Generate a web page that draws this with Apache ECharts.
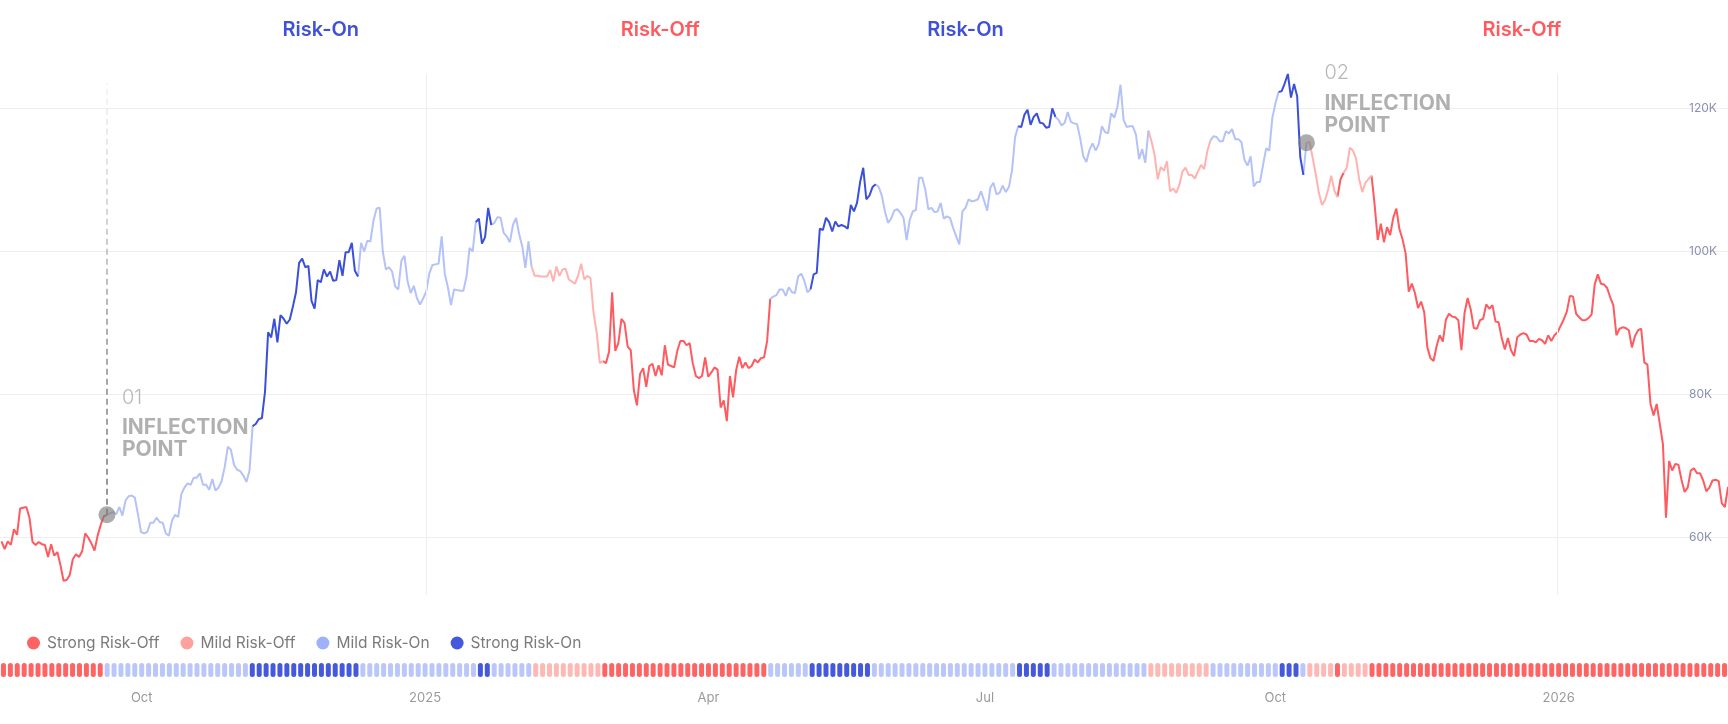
<!DOCTYPE html>
<html>
<head>
<meta charset="utf-8">
<script src="https://cdn.jsdelivr.net/npm/echarts@6.0.0/dist/echarts.min.js"></script>
<style>
html,body{margin:0;padding:0;background:#ffffff;}
#chart{width:1728px;height:724px;}
</style>
</head>
<body>
<div id="chart"></div>
<script>
// ---------- DATA (daily close, thousands USD) ----------
const startDate = '2024-08-17';
const aug2024 = [59.5, 58.4, 59.5, 59.0, 61.2, 60.4, 64.1, 64.2, 64.3, 62.8, 59.4, 59.0, 59.4, 59.1, 59.0];
const sep2024 = [57.3, 59.1, 57.5, 58.0, 56.2, 54.0, 54.1, 54.8, 57.0, 57.7, 57.3, 58.1, 60.6, 60.0, 59.2, 58.2, 60.3, 61.8, 63.0, 63.2, 63.4, 63.6, 63.3, 64.3, 63.1, 65.2, 65.8, 65.9, 65.6, 63.3];
const oct2024 = [60.8, 60.6, 60.8, 62.1, 62.1, 62.8, 62.2, 62.1, 60.6, 60.3, 62.4, 63.2, 62.9, 66.1, 67.0, 67.6, 67.4, 68.4, 68.4, 69.0, 67.4, 67.4, 66.7, 68.2, 66.6, 67.0, 67.9, 69.9, 72.7, 72.3, 70.2];
const nov2024 = [69.5, 69.3, 68.7, 67.8, 69.4, 75.6, 75.9, 76.6, 76.7, 80.4, 88.7, 88.0, 90.6, 87.3, 91.1, 90.6, 89.9, 90.5, 92.3, 94.3, 98.4, 99.0, 97.8, 98.0, 93.1, 92.0, 96.0, 95.7, 97.5, 96.5];
const dec2024 = [97.2, 95.9, 96.0, 98.8, 96.6, 99.9, 99.9, 101.2, 97.3, 96.5, 101.2, 100.0, 101.5, 101.4, 104.3, 106.0, 106.1, 100.0, 97.5, 97.8, 97.2, 95.1, 94.7, 98.7, 99.4, 95.8, 94.2, 95.2, 93.5, 92.6, 93.4];
const jan2025 = [94.4, 96.9, 98.1, 98.2, 98.3, 102.1, 96.9, 95.0, 92.5, 94.7, 94.6, 94.5, 94.5, 96.5, 100.5, 100.0, 104.1, 104.6, 101.1, 102.0, 106.1, 103.7, 104.0, 104.8, 104.7, 102.6, 102.1, 101.3, 103.7, 104.7, 102.4];
const feb2025 = [100.7, 97.7, 101.4, 97.9, 96.6, 96.6, 96.5, 96.5, 96.5, 97.4, 95.8, 97.9, 96.6, 97.5, 97.6, 96.1, 95.8, 95.5, 96.6, 98.3, 96.1, 96.6, 96.3, 91.4, 88.7, 84.4, 84.7, 84.4];
const mar2025 = [86.0, 94.3, 86.1, 87.2, 90.6, 90.0, 86.7, 86.2, 80.6, 78.5, 82.9, 83.7, 81.1, 84.0, 84.3, 82.6, 84.1, 82.7, 86.9, 84.2, 84.0, 83.8, 86.1, 87.5, 87.5, 86.9, 87.2, 84.4, 82.6, 82.3, 82.6];
const apr2025 = [85.2, 82.5, 83.1, 83.8, 83.5, 78.2, 79.2, 76.3, 82.6, 79.6, 83.4, 85.3, 83.7, 84.5, 83.7, 84.0, 84.9, 84.5, 85.1, 85.2, 87.5, 93.4, 93.7, 93.9, 94.7, 94.7, 93.8, 95.0, 94.3, 94.2];
const may2025 = [96.5, 96.9, 95.9, 94.3, 94.7, 96.8, 97.0, 103.2, 103.0, 104.7, 104.1, 102.8, 104.2, 103.5, 103.7, 103.5, 103.2, 106.5, 105.6, 106.8, 109.7, 111.7, 107.3, 107.8, 109.0, 109.4, 109.0, 107.8, 105.6, 104.0, 104.6];
const jun2025 = [105.7, 105.9, 105.4, 104.7, 101.6, 104.4, 105.6, 105.8, 110.3, 110.3, 108.7, 105.9, 106.1, 105.5, 105.6, 106.8, 104.6, 104.9, 104.7, 103.3, 102.1, 101.0, 105.6, 106.1, 107.3, 107.0, 107.1, 107.3, 108.4, 107.1];
const jul2025 = [105.7, 108.9, 109.6, 108.0, 108.2, 109.2, 108.3, 109.0, 111.3, 116.0, 117.5, 117.4, 119.1, 119.8, 117.7, 118.8, 119.3, 118.0, 117.9, 117.3, 117.4, 120.0, 118.8, 118.4, 117.6, 118.0, 119.5, 118.1, 117.9, 117.8, 115.8];
const aug2025 = [113.3, 112.5, 114.2, 115.1, 114.1, 115.0, 117.5, 116.7, 116.5, 119.3, 118.7, 120.2, 123.3, 118.4, 117.4, 117.5, 117.5, 116.3, 112.9, 114.3, 112.4, 116.9, 115.4, 113.5, 110.1, 111.8, 111.3, 112.6, 108.4, 108.8, 108.2];
const sep2025 = [109.3, 111.2, 111.7, 110.7, 110.7, 110.2, 111.2, 112.1, 111.5, 114.0, 115.5, 116.1, 116.0, 115.4, 115.4, 116.8, 116.5, 117.1, 115.7, 115.7, 115.3, 112.8, 112.0, 113.3, 109.1, 109.7, 109.7, 112.1, 114.4, 114.1];
const oct2025 = [118.7, 120.7, 122.3, 122.4, 123.5, 124.8, 121.5, 123.4, 121.7, 113.2, 110.7, 115.2, 115.3, 113.1, 110.8, 108.2, 106.5, 107.2, 108.7, 110.6, 108.5, 107.6, 110.1, 111.0, 111.7, 114.5, 114.1, 113.0, 110.1, 108.3, 109.6];
const nov2025 = [110.1, 110.6, 106.5, 101.6, 103.9, 101.3, 103.4, 102.3, 104.7, 106.0, 103.1, 101.7, 99.7, 94.4, 95.5, 94.2, 92.1, 93.0, 91.5, 86.6, 85.1, 84.7, 86.8, 88.3, 87.4, 90.5, 91.3, 90.9, 90.8, 90.4];
const dec2025 = [86.2, 91.4, 93.5, 91.9, 89.3, 89.2, 90.4, 90.6, 92.6, 92.0, 92.5, 90.2, 90.1, 87.9, 86.3, 87.9, 86.2, 85.4, 88.0, 88.4, 88.6, 88.4, 87.5, 87.5, 87.3, 87.8, 87.6, 87.1, 88.3, 87.5, 88.3];
const jan2026 = [88.7, 89.6, 90.5, 91.6, 93.8, 93.7, 91.3, 90.8, 90.4, 90.4, 90.7, 91.2, 95.4, 96.8, 95.5, 95.4, 94.9, 93.6, 92.5, 88.3, 89.2, 89.4, 89.3, 89.0, 86.6, 88.2, 89.0, 89.2, 84.5, 84.2, 78.7];
const feb2026 = [77.1, 78.7, 75.9, 73.1, 62.8, 70.7, 69.4, 70.3, 70.2, 68.1, 66.4, 67.0, 69.4, 69.7, 69.0, 69.0, 68.0, 66.5, 67.0, 68.0, 68.1, 67.9, 64.8, 64.3, 67.1];

// regimes: 0 Strong Risk-Off, 1 Mild Risk-Off, 2 Mild Risk-On, 3 Strong Risk-On
const regimeNames = ['Strong Risk-Off', 'Mild Risk-Off', 'Mild Risk-On', 'Strong Risk-On'];
const regimeChanges = [
  ['2024-08-17', 0], ['2024-09-20', 2], ['2024-11-06', 3], ['2024-12-10', 2],
  ['2025-01-17', 3], ['2025-01-22', 2], ['2025-02-04', 1], ['2025-02-27', 0],
  ['2025-04-22', 2], ['2025-05-05', 3], ['2025-05-26', 2], ['2025-07-11', 3],
  ['2025-07-23', 2], ['2025-08-22', 1], ['2025-09-11', 2], ['2025-10-03', 3],
  ['2025-10-11', 2], ['2025-10-12', 1], ['2025-10-22', 0], ['2025-10-24', 1],
  ['2025-11-02', 0]
];
const macroPeriods = [
  ['2024-09-20', '2025-02-05', 'Risk-On'],
  ['2025-02-05', '2025-04-27', 'Risk-Off'],
  ['2025-04-27', '2025-08-21', 'Risk-On'],
  ['2025-10-15', '2026-02-25', 'Risk-Off']
];
const inflections = [['2024-09-20', '01'], ['2025-10-12', '02']];
const yearLines = ['2025-01-01', '2026-01-01'];
const tickDates = ['2024-10-01', '2025-01-01', '2025-04-01', '2025-07-01', '2025-10-01', '2026-01-01'];
const tickLabels = ['Oct', '2025', 'Apr', 'Jul', 'Oct', '2026'];

// ---------- STYLE ----------
const lineColors = ['#ff5a5f', '#ffb3af', '#b4c2f8', '#3b4fd8'];
const legendColors = ['#ff6262', '#ffa19d', '#9db2fb', '#4558db'];
const stripColors = ['#ff6464', '#ffb9b5', '#bac7f8', '#4559dc'];
const titleColors = { 'Risk-On': '#3f51d6', 'Risk-Off': '#ff5a5f' };
const FONT = 'Inter';
const stripCount = 250;

// ---------- BUILD ----------
const DAY = 86400000;
const t0 = Date.parse(startDate + 'T00:00:00Z');
const prices = [].concat(aug2024, sep2024, oct2024, nov2024, dec2024, jan2025, feb2025, mar2025, apr2025,
  may2025, jun2025, jul2025, aug2025, sep2025, oct2025, nov2025, dec2025, jan2026, feb2026);
const N = prices.length;
const tsOf = d => t0 + d * DAY;
const dayOf = s => Math.round((Date.parse(s + 'T00:00:00Z') - t0) / DAY);

const regime = new Array(N);
regimeChanges.forEach((c, k) => {
  const s = dayOf(c[0]);
  const e = k + 1 < regimeChanges.length ? dayOf(regimeChanges[k + 1][0]) : N;
  for (let d = s; d < e; d++) regime[d] = c[1];
});

const regimeSeries = regimeNames.map((name, r) => ({
  name: name,
  type: 'line',
  xAxisIndex: 0, yAxisIndex: 0,
  showSymbol: false,
  symbol: 'none',
  connectNulls: false,
  z: 3,
  emphasis: { disabled: true },
  itemStyle: { color: legendColors[r] },
  lineStyle: { color: lineColors[r], width: 2 },
  data: prices.map((p, d) => [tsOf(d), (regime[d] === r || (d > 0 && regime[d - 1] === r)) ? p : null])
}));

// strip buckets
const stripCats = [], stripData = [];
for (let i = 0; i < stripCount; i++) {
  const d = Math.min(N - 1, Math.floor((i + 0.5) * N / stripCount));
  stripCats.push(new Date(tsOf(d)).toISOString().slice(0, 10));
  stripData.push({ value: 1, itemStyle: { color: stripColors[regime[d]] } });
}
const labelAt = {};
tickDates.forEach((td, k) => {
  const target = dayOf(td);
  for (let i = 0; i < stripCount; i++) {
    const d = Math.floor((i + 0.5) * N / stripCount);
    if (d >= target) { labelAt[i] = tickLabels[k]; break; }
  }
});

const inflectionLabelPos = { '01': [23.5, -127.5], '02': [26.5, -80] };
const inflectionLineTop = { '01': 123.5, '02': 128.6 };
const inflectionData = inflections.map(f => {
  const d = dayOf(f[0]);
  return {
    value: [tsOf(d), prices[d]],
    label: {
      show: true,
      position: inflectionLabelPos[f[1]],
      align: 'left', verticalAlign: 'top',
      formatter: '{n|' + f[1] + '}\n{t|INFLECTION}\n{t|POINT}',
      rich: {
        n: { fontFamily: FONT, fontSize: 20, fontWeight: 300, color: '#a8a8a8', lineHeight: 38 },
        t: { fontFamily: FONT, fontSize: 21, fontWeight: 700, color: '#9c9c9c', lineHeight: 22 }
      }
    }
  };
});
const dashGradient = {
  type: 'linear', x: 0, y: 0, x2: 0, y2: 1,
  colorStops: [
    { offset: 0, color: 'rgba(190,190,190,0.15)' },
    { offset: 0.55, color: 'rgba(150,150,150,0.75)' },
    { offset: 1, color: 'rgba(140,140,140,0.95)' }
  ]
};
const inflectionLines = inflections.map(f => {
  const d = dayOf(f[0]);
  return [
    { coord: [tsOf(d), prices[d]] },
    { coord: [tsOf(d), inflectionLineTop[f[1]]] }
  ];
});

const option = {
  animation: false,
  backgroundColor: '#ffffff',
  textStyle: { fontFamily: FONT },
  legend: {
    data: regimeNames.map((n, r) => ({ name: n, icon: 'circle', itemStyle: { color: legendColors[r] } })),
    left: 22, top: 630,
    itemWidth: 17, itemHeight: 13, itemGap: 21,
    selectedMode: false,
    textStyle: { fontFamily: FONT, fontSize: 15.5, color: '#7b7b7b' }
  },
  grid: [
    { left: 0, right: 0, top: 74, bottom: 129 },
    { left: 0, right: 0, top: 663, height: 14 }
  ],
  xAxis: [
    {
      type: 'time', gridIndex: 0, min: tsOf(0) - DAY / 2, max: tsOf(N - 1),
      axisLine: { show: false }, axisTick: { show: false }, axisLabel: { show: false }, splitLine: { show: false }
    },
    {
      type: 'category', gridIndex: 1, data: stripCats, boundaryGap: true,
      axisLine: { show: false }, axisTick: { show: false }, splitLine: { show: false },
      axisLabel: {
        interval: (idx) => labelAt[idx] !== undefined,
        formatter: (val, idx) => labelAt[idx] || '',
        color: '#9a9a9a', fontSize: 13, margin: 15, fontFamily: FONT
      }
    }
  ],
  yAxis: [
    {
      type: 'value', gridIndex: 0, position: 'right', min: 52, max: 'dataMax', splitNumber: 4,
      axisLine: { show: false }, axisTick: { show: false },
      axisLabel: {
        inside: true, margin: 39, align: 'left', color: '#8b8fb1', fontSize: 12, fontFamily: FONT,
        showMinLabel: false, showMaxLabel: false,
        formatter: v => v + 'K'
      },
      splitLine: { show: true, showMinLine: false, showMaxLine: false, lineStyle: { color: '#eeeef2', width: 1 } }
    },
    { type: 'value', gridIndex: 1, min: 0, max: 1, show: false }
  ],
  series: [
    {
      name: 'helper', type: 'line', xAxisIndex: 0, yAxisIndex: 0, data: [], z: 1, silent: true,
      markLine: {
        silent: true, symbol: ['none', 'none'], label: { show: false },
        lineStyle: { color: '#eceef3', width: 1, type: 'solid' },
        data: yearLines.map(y => ({ xAxis: Date.parse(y + 'T00:00:00Z') }))
      },
      markArea: {
        silent: true,
        itemStyle: { color: 'rgba(0,0,0,0)' },
        label: { show: true, position: 'top', distance: 34, fontFamily: FONT, fontSize: 20, fontWeight: 600 },
        data: macroPeriods.map(p => [
          { name: p[2], xAxis: Date.parse(p[0] + 'T00:00:00Z'), label: { color: titleColors[p[2]] } },
          { xAxis: Date.parse(p[1] + 'T00:00:00Z') }
        ])
      }
    },
    ...regimeSeries,
    {
      name: 'strip', type: 'bar', xAxisIndex: 1, yAxisIndex: 1, barWidth: 5, silent: true,
      itemStyle: { borderRadius: 2.5 },
      data: stripData
    },
    {
      name: 'inflection', type: 'scatter', xAxisIndex: 0, yAxisIndex: 0, z: 10, clip: false, silent: true,
      symbol: 'circle', symbolSize: 17,
      itemStyle: { color: 'rgba(125,125,125,0.8)' },
      data: inflectionData,
      markLine: {
        silent: true, symbol: ['none', 'none'], label: { show: false },
        lineStyle: { color: dashGradient, width: 2, type: [6, 4] },
        data: inflectionLines
      }
    }
  ]
};

const chart = echarts.init(document.getElementById('chart'), null, { renderer: 'canvas' });
chart.setOption(option);
</script>
</body>
</html>
